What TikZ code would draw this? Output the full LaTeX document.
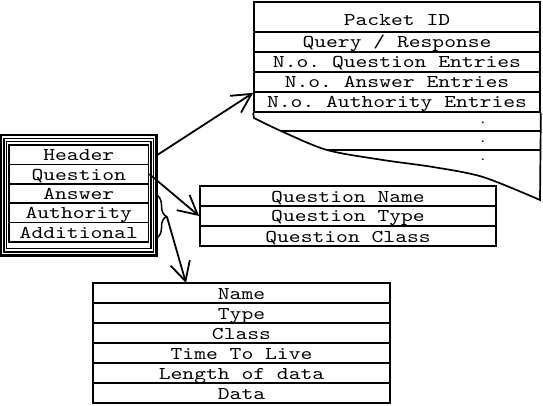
\documentclass[tikz,border=0pt]{standalone}
\usepackage{fontspec}
\setmonofont[FakeStretch=1.25]{lmmono10-regular.otf}
\usetikzlibrary{arrows.meta,decorations.pathreplacing}

\tikzset{
  field/.style={draw, line width=1.7pt, inner sep=0pt, minimum height=20pt,
    text height=12pt, text depth=0pt, font=\ttfamily\fontsize{18}{18}\selectfont},
  frame/.style={draw, inner sep=0pt},
  dotmark/.style={inner sep=0pt, anchor=base, text height=2pt, text depth=0pt, font=\ttfamily\bfseries\fontsize{13}{13}\selectfont},
  link/.style={line width=1.8pt, -{Straight Barb[length=19pt,width=20pt]}},
}

\begin{document}
\begin{tikzpicture}[x=1pt, y=-1pt]
    \useasboundingbox (0,0) rectangle (543,406);

    % Message with its triple frame
    \node[frame, line width=2.4pt, minimum width=155.5pt, minimum height=120.5pt] (msgout) at (78.75,195.25) {};
    \node[frame, line width=1.3pt, minimum width=149.5pt, minimum height=113.5pt] (msgmid) at (78.75,195.25) {};
    \node[frame, line width=1.3pt, minimum width=144.5pt, minimum height=107pt] (msginn) at (78.75,195) {};
    \node[field, minimum width=139.5pt, minimum height=19.4pt] (hdr) at (78.75,154.7) {Header};
    \node[field, minimum width=139.5pt, minimum height=19.4pt] (qst) at (78.75,174.1) {Question};
    \node[field, minimum width=139.5pt, minimum height=19.4pt] (ans) at (78.75,193.5) {Answer};
    \node[field, minimum width=139.5pt, minimum height=19.4pt] (auth) at (78.75,212.9) {Authority};
    \node[field, minimum width=139.5pt, minimum height=19.4pt] (add) at (78.75,232.3) {Additional};

    % Header fields
    \node[field, minimum width=286pt, minimum height=30pt, text height=17pt] (pid) at (397,17) {Packet ID};
    \node[field, minimum width=286pt] (qr) at (397,42) {Query / Response};
    \node[field, minimum width=286pt] (nqe) at (397,62) {N.o. Question Entries};
    \node[field, minimum width=286pt] (nae) at (397,82) {N.o. Answer Entries};
    \node[field, minimum width=286pt] (naue) at (397,102) {N.o. Authority Entries};

    % Torn lower part of the header
    \coordinate (w1) at (281,131);
    \coordinate (w2) at (327,150);
    \draw[line width=1.7pt] (naue.south west) -- plot[smooth] coordinates {(254,118) (281,131) (327,150) (383,160) (433,167) (483,177) (540,200)} -- (naue.south east);
    \draw[line width=1.7pt] (w1) -- (w1 -| naue.east);
    \draw[line width=1.7pt] (w2) -- (w2 -| naue.east);
    \node[dotmark] (dot1) at (483,123.5) {.};
    \node[dotmark] (dot2) at (483,142.5) {.};
    \node[dotmark] (dot3) at (483,160.5) {.};

    % Question entry
    \node[field, minimum width=296pt] (qname) at (348,196) {Question Name};
    \node[field, minimum width=296pt] (qtype) at (348,216) {Question Type};
    \node[field, minimum width=296pt] (qclass) at (348,236) {Question Class};

    % Resource record
    \node[field, minimum width=297pt] (nme) at (241.5,293) {Name};
    \node[field, minimum width=297pt] (typ) at (241.5,313) {Type};
    \node[field, minimum width=297pt] (cls) at (241.5,333) {Class};
    \node[field, minimum width=297pt] (ttl) at (241.5,353) {Time To Live};
    \node[field, minimum width=297pt] (len) at (241.5,373) {Length of data};
    \node[field, minimum width=297pt] (dat) at (241.5,393) {Data};

    % Brace over answer, authority and additional
    \draw[line width=1.5pt, decorate, decoration={brace, amplitude=10pt}] (156.5,195) -- (156.5,238);
    \coordinate (tip) at (167,217);
    \coordinate (rrtop) at (186,283);

    % Links
    \draw[link] (msgout.east |- hdr) -- (nae.south west);
    \draw[link] (qst.east) -- (qtype.west);
    \draw[link] (tip) -- (rrtop);
\end{tikzpicture}
\end{document}
